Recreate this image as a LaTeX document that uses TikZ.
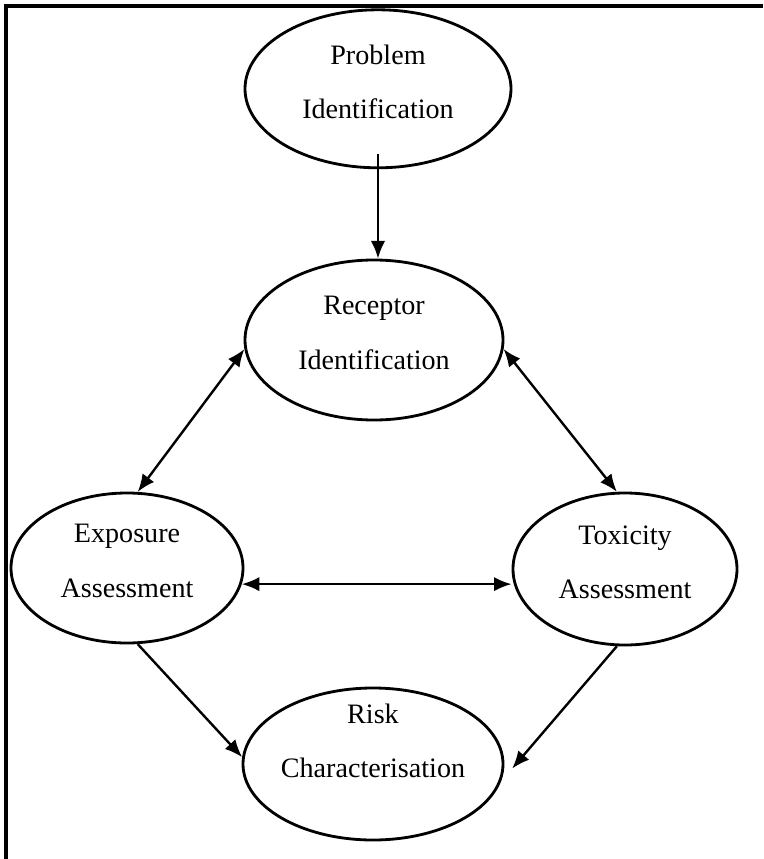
\documentclass[tikz,border=0pt]{standalone}
\usepackage{fontspec}
\setmainfont{Liberation Serif}
\usepackage{tikz}
\usetikzlibrary{arrows.meta,positioning,shapes.geometric}
\newcommand{\lowpad}{\rule[-0.36cm]{0pt}{0pt}}

\begin{document}
\begin{tikzpicture}[
    stage/.style={ellipse, draw, line width=2pt, inner sep=0pt,
        align=center, font=\fontsize{20}{38.5}\selectfont},
    flow/.style={-{Latex[length=4.4mm,width=3.6mm]}, line width=1.7pt},
    twoway/.style={{Latex[length=4.4mm,width=3.6mm]}-{Latex[length=4.4mm,width=3.6mm]}, line width=1.7pt}
]
\useasboundingbox (0,0) rectangle (19.075,-21.475);
\draw[line width=2.2pt] (0.15,-21.475) -- (0.15,-0.15) -- (19.075,-0.15);
\node[stage, minimum width=6.65cm, minimum height=3.95cm] (problem) at (9.45,-2.22)
    {Problem\\Identification\lowpad};
\node[stage, minimum width=6.45cm, minimum height=4.0cm] (receptor) at (9.35,-8.5)
    {Receptor\\Identification\lowpad};
\node[stage, minimum width=5.8cm, minimum height=3.75cm] (exposure) at (3.175,-14.2)
    {Exposure\\Assessment\lowpad};
\node[stage, minimum width=5.6cm, minimum height=3.8cm] (toxicity) at (15.625,-14.225)
    {Toxicity\\Assessment\lowpad};
\node[stage, inner sep=-0.7cm, minimum width=6.5cm, minimum height=3.8cm] (risk) at (9.325,-19.1)
    {Risk\\Characterisation\rule[-1.15cm]{0pt}{0pt}};
\draw[flow] ([yshift=0.38cm]problem.south) -- (problem.south |- receptor.north);
\draw[twoway] (receptor.184) -- (exposure.82);
\draw[twoway] (receptor.-4) -- (toxicity.96);
\draw[twoway] (exposure.-8) -- (exposure.-8 -| toxicity.west);
\draw[flow] (exposure.-82) -- (risk.177);
\draw[flow] (toxicity.-96) -- ([xshift=0.2cm]risk.-2);
\end{tikzpicture}
\end{document}
